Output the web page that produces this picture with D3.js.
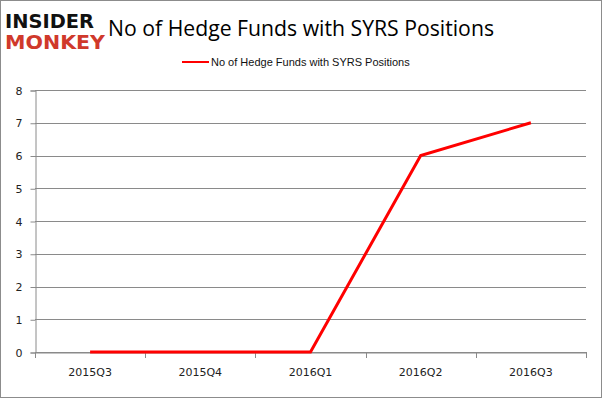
<!DOCTYPE html>
<html lang="en">
<head>
    <meta charset="utf-8">
    <script src="https://cdn.jsdelivr.net/npm/d3@7"></script>
    <style type="text/css">
        body { margin: 0; background: #fff; }
        .chart { display: block; font-family: "Liberation Sans", "DejaVu Sans", sans-serif; }
    </style>
</head>
<body>
    <script>
        let quarters = ["2015Q3", "2015Q4", "2016Q1", "2016Q2", "2016Q3"];
        let funds = [0, 0, 0, 6, 7];
        let yTicks = [0, 1, 2, 3, 4, 5, 6, 7, 8];

        let w = 602;
        let h = 398;
        let plotLeft = 35, plotRight = 586, plotTop = 90, plotBottom = 352;

        let svg = d3.select("body")
                    .append("svg")
                    .attr("class", "chart")
                    .attr("width", w)
                    .attr("height", h);

        svg.append("rect")
            .attr("x", 0.5).attr("y", 0.5)
            .attr("width", w - 1).attr("height", h - 1)
            .attr("fill", "#fff")
            .attr("stroke", "#8c8c8c");

        // logo, stretched vertically
        let logo = svg.append("g")
            .attr("transform", "translate(5,0) scale(1,1.3)");
        logo.append("text")
            .attr("x", 0).attr("y", 21.3)
            .attr("font-family", "DejaVu Sans")
            .attr("font-weight", "bold")
            .attr("font-size", 15)
            .attr("textLength", 89)
            .attr("lengthAdjust", "spacingAndGlyphs")
            .attr("fill", "#111")
            .text("INSIDER");
        logo.append("text")
            .attr("x", 0).attr("y", 37.5)
            .attr("font-family", "DejaVu Sans")
            .attr("font-weight", "bold")
            .attr("font-size", 15)
            .attr("textLength", 100)
            .attr("lengthAdjust", "spacingAndGlyphs")
            .attr("fill", "#d0392b")
            .text("MONKEY");

        svg.append("text")
            .attr("x", 108).attr("y", 36)
            .attr("font-family", "Open Sans, Liberation Sans, sans-serif")
            .attr("font-size", 21)
            .attr("textLength", 386)
            .attr("lengthAdjust", "spacingAndGlyphs")
            .attr("fill", "#000")
            .text("No of Hedge Funds with SYRS Positions");

        // legend
        svg.append("line")
            .attr("x1", 182).attr("x2", 209)
            .attr("y1", 62).attr("y2", 62)
            .attr("stroke", "red").attr("stroke-width", 2);
        svg.append("text")
            .attr("x", 211).attr("y", 66)
            .attr("font-size", 11)
            .attr("fill", "#111")
            .text("No of Hedge Funds with SYRS Positions");

        let xScale = d3.scaleBand()
                        .domain(quarters)
                        .range([plotLeft, plotRight]);

        let yScale = d3.scaleLinear()
                        .domain([0, 8])
                        .range([plotBottom, plotTop]);

        // gridlines
        svg.append("g")
            .selectAll("line")
            .data(yTicks)
            .enter()
            .append("line")
            .attr("x1", plotLeft).attr("x2", plotRight)
            .attr("y1", (d) => Math.round(yScale(d)) + 0.5)
            .attr("y2", (d) => Math.round(yScale(d)) + 0.5)
            .attr("stroke", "#8a8a8a");

        let yAxis = d3.axisLeft(yScale).tickValues(yTicks).tickSize(5).tickPadding(8);
        let gy = svg.append("g")
            .attr("transform", "translate(" + (plotLeft + 0.5) + ",0.5)")
            .call(yAxis);
        gy.select(".domain").attr("stroke", "#8a8a8a");
        gy.selectAll(".tick line").attr("stroke", "#8a8a8a");
        gy.selectAll("text").attr("font-size", 11).attr("fill", "#222")
            .attr("font-family", "DejaVu Sans");

        let xAxis = d3.axisBottom(xScale).tickSize(0).tickPadding(16);
        let gx = svg.append("g")
            .attr("transform", "translate(0," + (plotBottom + 0.5) + ")")
            .call(xAxis);
        gx.select(".domain").attr("stroke", "#8a8a8a");
        gx.selectAll("text").attr("font-size", 11).attr("fill", "#222")
            .attr("font-family", "DejaVu Sans");

        // tick marks at band edges
        svg.append("g")
            .selectAll("line")
            .data(quarters.concat(["end"]))
            .enter()
            .append("line")
            .attr("x1", (d, i) => Math.round(plotLeft + i * xScale.step()) + 0.5)
            .attr("x2", (d, i) => Math.round(plotLeft + i * xScale.step()) + 0.5)
            .attr("y1", plotBottom).attr("y2", plotBottom + 6)
            .attr("stroke", "#8a8a8a");

        let line = d3.line()
            .x((d, i) => xScale(quarters[i]) + xScale.bandwidth() / 2)
            .y((d) => yScale(d));

        svg.append("path")
            .datum(funds)
            .attr("d", line)
            .attr("fill", "none")
            .attr("stroke", "red")
            .attr("stroke-width", 3);
    </script>
</body>
</html>
